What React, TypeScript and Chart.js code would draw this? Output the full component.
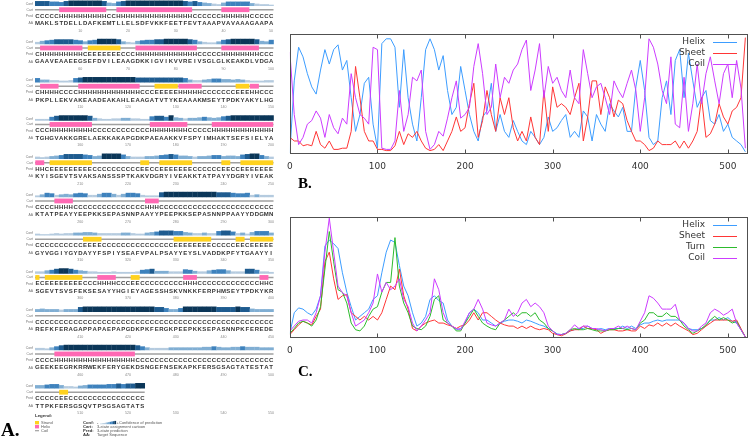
import React, { useEffect, useRef } from "react";
import { Chart, registerables } from "chart.js";

Chart.register(...registerables);

// ---------------- Panel A : sequence / PSIPRED-style data ----------------
const AA_ROWS = [
  "MAKLSTDELLDAFKEMTLLELSDFVKKFEETFEVTAAAPVAVAAAGAAPA",
  "GAAVEAAEEGSEFDVILEAAGDKKIGVIKVVREIVSGLGLKEAKDLVDGA",
  "PKPLLEKVAKEAADEAKAHLEAAGATVTYKEAAAKMSEYTPDKYAKYLHG",
  "TGHGVAKKGRELAEKKAKAPGDKPAEAAKKVFSPYIMHAKTSEFSIELYA",
  "KYISGEVTSVAKSANSSSPTKAKVDGRYIVEAKKTATPAYYDGRYIVEAK",
  "KTATPEAYYEEPKKSEPASNNPAAYYPEEPKKSEPASNNPPAAYYDDGMN",
  "GYVGGIYGYDAYYFSPIYSEAFVPALPSAYYEYSLVADDKPFYTGAAYYI",
  "SGEVTSVSFEKSESAYYHGIEYAGESSHSKVNKKFERPHMSEYTPDKYKR",
  "REFKFERAGAPPAPAEPAPGDKPKFERGKPEEPKKSEPASNNPKFEREDE",
  "GEEKEEGRKRRWEKFERYGEKDSNGEFNSEKAPKFERSGSAGTATESTAT",
  "TTPKFERSGSQVTPSGSAGTATS",
];

// predicted states, run-length coded (state + run length)
const PRED_RUNS = [
  "C5 H10 C2 H16 C6 H6 C5",
  "C1 H9 C1 E7 C3 H13 C5 H8 C3",
  "C1 H4 C4 H13 C3 E5 H5 C7 E3 H2 C3",
  "C3 H9 C12 H8 C5 H13",
  "H2 C1 E9 C10 E2 C2 E7 C6 E2 C2 E7",
  "C4 H4 C15 H3 C24",
  "C10 E4 C15 E8 C5 E2 C1 E5",
  "E1 C1 E8 C3 H4 C3 E2 C9 H3 C13 H2 C1",
  "C50",
  "C4 H17 C29",
  "C5 E2 C16",
];

// confidence (0-9) per residue
const CONF_ROWS = [
  "88877" + "6899999998" + "54" + "7899999999999987" + "865432" + "577777" + "43221",
  "3" + "567888876" + "4" + "6799998" + "432" + "5677889999987" + "43224" + "78999998" + "547",
  "7" + "4433" + "2237" + "8999999999998" + "888" + "88888" + "87433" + "4566554" + "543" + "22" + "233",
  "222" + "689999998" + "432233443322" + "78869543" + "44565" + "4578999999999",
  "32" + "3" + "456888876" + "4599997433" + "34" + "45" + "6787554" + "344566" + "45" + "54" + "7899643",
  "2476" + "3454" + "676335775357763" + "222" + "899999999999888766734333",
  "2112323344" + "5543" + "333344322456888" + "77543343" + "37886" + "34" + "2" + "57774",
  "3" + "3" + "56899865" + "433" + "2223" + "222" + "23" + "678444333" + "764" + "3356775333886" + "33" + "2",
  "4544434448" + "9999999999" + "9999988644" + "6999999988" + "8898854444",
  "3324" + "68999999999999999" + "8643333444" + "4444556544" + "556555444",
  "55677533245666677878899",
];

const POSITION_LABELS = [10, 20, 30, 40, 50];

// ---------------- Panels B and C : per-residue profiles ----------------
const X_TICKS = [0, 100, 200, 300, 400, 500];
const SEQ_LENGTH = 523;
const SAMPLE_STEP = 5; // one reading every 5 residues

const B_HELIX = [
  0.01, 0.61, 0.89, 0.81, 0.67, 0.56, 0.5, 0.7, 0.87, 0.75,
  0.87, 0.91, 0.7, 0.78, 0.47, 0.19, 0.33, 0.59, 0.64, 0.25,
  0.05, 0.92, 0.96, 0.96, 0.89, 0.39, 0.87, 0.47, 0.25, 0.11,
  0.47, 0.87, 0.96, 0.87, 0.7, 0.82, 0.53, 0.33, 0.39, 0.73,
  0.53, 0.33, 0.19, 0.11, 0.31, 0.36, 0.59, 0.19, 0.33, 0.19,
  0.14, 0.28, 0.19, 0.11, 0.08, 0.19, 0.14, 0.08, 0.14, 0.31,
  0.19, 0.22, 0.28, 0.33, 0.14, 0.19, 0.14, 0.36, 0.31, 0.11,
  0.33, 0.25, 0.19, 0.42, 0.36, 0.31, 0.39, 0.19, 0.19, 0.56,
  0.78, 0.53, 0.14, 0.08, 0.11, 0.47, 0.61, 0.33, 0.78, 0.87,
  0.47, 0.84, 0.61, 0.39, 0.47, 0.53, 0.28, 0.25, 0.33, 0.19,
  0.25, 0.14, 0.11, 0.08, 0.02,
];
const B_SHEET = [
  0.14, 0.11, 0.11, 0.07, 0.08, 0.07, 0.19, 0.08, 0.05, 0.11,
  0.04, 0.04, 0.05, 0.05, 0.19, 0.73, 0.47, 0.19, 0.11, 0.11,
  0.04, 0.04, 0.03, 0.03, 0.07, 0.19, 0.08, 0.17, 0.14, 0.19,
  0.11, 0.05, 0.03, 0.04, 0.08, 0.03, 0.11, 0.19, 0.31, 0.19,
  0.22, 0.42, 0.59, 0.14, 0.28, 0.53, 0.33, 0.19, 0.47, 0.33,
  0.47, 0.22, 0.11, 0.19, 0.11, 0.31, 0.14, 0.08, 0.53, 0.19,
  0.56, 0.39, 0.42, 0.39, 0.33, 0.47, 0.59, 0.11, 0.31, 0.61,
  0.61, 0.33, 0.56, 0.47, 0.31, 0.45, 0.42, 0.28, 0.19, 0.11,
  0.11, 0.08, 0.03, 0.05, 0.11, 0.08, 0.08, 0.08, 0.11, 0.05,
  0.11, 0.05, 0.11, 0.19, 0.47, 0.14, 0.17, 0.25, 0.42, 0.31,
  0.25, 0.36, 0.39, 0.47, 0.97,
];
const B_COIL = [
  0.85, 0.33, 0.08, 0.14, 0.25, 0.28, 0.36, 0.3, 0.14, 0.33,
  0.22, 0.17, 0.3, 0.25, 0.67, 0.47, 0.33, 0.3, 0.25, 0.89,
  0.87, 0.05, 0.04, 0.04, 0.11, 0.53, 0.19, 0.33, 0.64, 0.61,
  0.7, 0.19, 0.04, 0.08, 0.19, 0.15, 0.3, 0.47, 0.61, 0.3,
  0.33, 0.39, 0.73, 0.92, 0.67, 0.33, 0.39, 0.75, 0.47, 0.64,
  0.59, 0.7, 0.75, 0.87, 0.95, 0.53, 0.7, 0.92, 0.47, 0.73,
  0.59, 0.64, 0.53, 0.47, 0.7, 0.47, 0.42, 0.87, 0.67, 0.47,
  0.56, 0.59, 0.47, 0.33, 0.61, 0.53, 0.47, 0.59, 0.7, 0.53,
  0.19, 0.47, 0.96, 0.89, 0.75, 0.53, 0.42, 0.81, 0.25, 0.22,
  0.64, 0.19, 0.42, 0.75, 0.42, 0.67, 0.81, 0.61, 0.42, 0.67,
  0.75, 0.47, 0.78, 0.55, 0.05,
];

const C_HELIX = [
  0.04, 0.21, 0.25, 0.24, 0.21, 0.19, 0.24, 0.35, 0.76, 0.81,
  0.78, 0.74, 0.54, 0.38, 0.26, 0.15, 0.18, 0.21, 0.24, 0.32,
  0.35, 0.54, 0.71, 0.81, 0.79, 0.6, 0.43, 0.35, 0.21, 0.1,
  0.125, 0.18, 0.32, 0.35, 0.31, 0.29, 0.15, 0.1, 0.07, 0.08,
  0.125, 0.21, 0.24, 0.21, 0.15, 0.15, 0.125, 0.1, 0.125, 0.14,
  0.15, 0.15, 0.14, 0.125, 0.15, 0.14, 0.125, 0.11, 0.1, 0.08,
  0.06, 0.036, 0.03, 0.04, 0.06, 0.07, 0.08, 0.08, 0.1, 0.08,
  0.07, 0.08, 0.07, 0.08, 0.08, 0.08, 0.1, 0.08, 0.1, 0.08,
  0.11, 0.125, 0.125, 0.14, 0.15, 0.14, 0.15, 0.15, 0.15, 0.15,
  0.125, 0.08, 0.07, 0.07, 0.08, 0.1, 0.15, 0.15, 0.17, 0.15,
  0.17, 0.14, 0.125, 0.07, 0.01,
];
const C_SHEET = [
  0.03, 0.07, 0.11, 0.14, 0.125, 0.11, 0.18, 0.24, 0.63, 0.71,
  0.49, 0.32, 0.35, 0.36, 0.21, 0.18, 0.15, 0.18, 0.15, 0.18,
  0.15, 0.21, 0.32, 0.43, 0.4, 0.57, 0.35, 0.24, 0.08, 0.06,
  0.1, 0.125, 0.14, 0.15, 0.125, 0.125, 0.11, 0.1, 0.08, 0.1,
  0.11, 0.15, 0.21, 0.15, 0.21, 0.21, 0.18, 0.15, 0.125, 0.11,
  0.1, 0.1, 0.08, 0.1, 0.08, 0.1, 0.08, 0.07, 0.08, 0.07,
  0.04, 0.03, 0.02, 0.036, 0.06, 0.07, 0.07, 0.1, 0.08, 0.08,
  0.07, 0.04, 0.06, 0.07, 0.07, 0.06, 0.06, 0.07, 0.06, 0.06,
  0.1, 0.08, 0.11, 0.1, 0.125, 0.1, 0.125, 0.1, 0.125, 0.1,
  0.08, 0.06, 0.03, 0.04, 0.07, 0.1, 0.125, 0.15, 0.15, 0.15,
  0.15, 0.14, 0.15, 0.08, 0.01,
];
const C_TURN = [
  0.04, 0.08, 0.125, 0.14, 0.125, 0.1, 0.15, 0.26, 0.57, 0.88,
  0.63, 0.4, 0.38, 0.29, 0.125, 0.07, 0.06, 0.1, 0.18, 0.24,
  0.26, 0.38, 0.46, 0.46, 0.83, 0.43, 0.29, 0.21, 0.1, 0.08,
  0.07, 0.1, 0.18, 0.32, 0.35, 0.15, 0.125, 0.1, 0.06, 0.06,
  0.125, 0.18, 0.24, 0.18, 0.125, 0.1, 0.08, 0.07, 0.125, 0.15,
  0.18, 0.21, 0.18, 0.21, 0.21, 0.18, 0.21, 0.15, 0.125, 0.08,
  0.06, 0.03, 0.03, 0.04, 0.07, 0.08, 0.07, 0.07, 0.08, 0.07,
  0.06, 0.06, 0.06, 0.07, 0.07, 0.08, 0.08, 0.07, 0.08, 0.07,
  0.125, 0.15, 0.21, 0.21, 0.18, 0.18, 0.21, 0.18, 0.18, 0.15,
  0.1, 0.07, 0.04, 0.06, 0.08, 0.11, 0.15, 0.18, 0.15, 0.17,
  0.15, 0.125, 0.14, 0.07, 0.01,
];
const C_COIL = [
  0.06, 0.1, 0.14, 0.15, 0.15, 0.125, 0.21, 0.35, 0.71, 0.99,
  0.71, 0.43, 0.375, 0.35, 0.21, 0.1, 0.125, 0.15, 0.21, 0.29,
  0.53, 0.38, 0.46, 0.4, 0.43, 0.49, 0.32, 0.26, 0.125, 0.06,
  0.1, 0.15, 0.21, 0.49, 0.4, 0.21, 0.125, 0.1, 0.08, 0.07,
  0.14, 0.21, 0.24, 0.32, 0.24, 0.125, 0.11, 0.1, 0.125, 0.15,
  0.24, 0.18, 0.21, 0.29, 0.32, 0.26, 0.29, 0.26, 0.21, 0.1,
  0.06, 0.03, 0.03, 0.04, 0.07, 0.11, 0.08, 0.1, 0.1, 0.08,
  0.08, 0.07, 0.06, 0.08, 0.08, 0.1, 0.08, 0.1, 0.08, 0.07,
  0.14, 0.21, 0.35, 0.33, 0.29, 0.24, 0.24, 0.24, 0.28, 0.15,
  0.125, 0.08, 0.06, 0.06, 0.1, 0.125, 0.21, 0.24, 0.22, 0.19,
  0.21, 0.24, 0.125, 0.07, 0.01,
];

const COLORS = {
  helix: "#3d9dff",
  sheet: "#ff3636",
  turn: "#2dbb2d",
  coil: "#cc3cff",
};

// ---------------- helpers ----------------
function expandRuns(s: string): string {
  return s
    .split(" ")
    .map((t) => t[0].repeat(parseInt(t.slice(1), 10)))
    .join("");
}
const PRED_ROWS = PRED_RUNS.map(expandRuns);

function confColor(c: number): string {
  if (c <= 3) return "#b5cbdf";
  if (c <= 5) return "#80aed3";
  if (c <= 7) return "#3e82bd";
  if (c === 8) return "#1e5b8f";
  return "#0b3658";
}

// row geometry (in row units of the panel-A y scale)
const ROW_OFF = { conf: 0.157, cart: 0.254, pred: 0.418, aa: 0.612, num: 0.803 };
const PANEL_A_ROWS_VISIBLE = 11.451;

const sequencePlugin = {
  id: "sequencePanel",
  afterDraw(chart: any) {
    const { ctx } = chart;
    const x = chart.scales.x;
    const y = chart.scales.y;
    ctx.save();
    AA_ROWS.forEach((aa, r) => {
      const pred = PRED_ROWS[r];
      const conf = CONF_ROWS[r];
      const n = aa.length;
      const yConf = y.getPixelForValue(r + ROW_OFF.conf);
      const yCart = y.getPixelForValue(r + ROW_OFF.cart);
      const yPred = y.getPixelForValue(r + ROW_OFF.pred);
      const yAA = y.getPixelForValue(r + ROW_OFF.aa);
      const yNum = y.getPixelForValue(r + ROW_OFF.num);

      // confidence bars
      for (let k = 0; k < n; k++) {
        const c = parseInt(conf[k] ?? "3", 10);
        const x0 = x.getPixelForValue(k);
        const x1 = x.getPixelForValue(k + 1);
        const h = 0.8 + c * 0.52;
        ctx.fillStyle = confColor(c);
        ctx.fillRect(x0, yConf - h, x1 - x0 + 0.3, h);
      }

      // cartoon
      ctx.strokeStyle = "#a0a0a0";
      ctx.lineWidth = 1.6;
      ctx.beginPath();
      ctx.moveTo(x.getPixelForValue(0), yCart);
      ctx.lineTo(x.getPixelForValue(n), yCart);
      ctx.stroke();
      let k = 0;
      while (k < n) {
        const s = pred[k];
        let e = k;
        while (e < n && pred[e] === s) e++;
        if (s === "H" || s === "E") {
          const x0 = x.getPixelForValue(k);
          const x1 = x.getPixelForValue(e);
          ctx.fillStyle = s === "H" ? "#ff69b4" : "#ffd21f";
          ctx.fillRect(x0 + 0.3, yCart - 2.4, x1 - x0 - 0.6, 4.8);
        }
        k = e;
      }

      // row labels
      ctx.fillStyle = "#777";
      ctx.font = "3.4px 'Liberation Sans'";
      ctx.textAlign = "right";
      ctx.textBaseline = "middle";
      const lx = x.getPixelForValue(0) - 2;
      ctx.fillText("Conf", lx, yConf - 2);
      ctx.fillText("Cart", lx, yCart);
      ctx.fillText("Pred", lx, yPred);
      ctx.fillText("AA", lx, yAA);

      // predicted states and sequence
      ctx.textAlign = "center";
      ctx.fillStyle = "#333";
      ctx.font = "bold 6px 'Liberation Sans'";
      for (let i = 0; i < n; i++) {
        const cx = x.getPixelForValue(i + 0.5);
        ctx.fillText(pred[i], cx, yPred);
        ctx.fillText(aa[i], cx, yAA);
      }

      // position numbers
      ctx.fillStyle = "#8a8a8a";
      ctx.font = "3.6px 'Liberation Sans'";
      POSITION_LABELS.forEach((p) => {
        ctx.fillText(String(r * 50 + p), x.getPixelForValue(p - 0.5), yNum);
      });
    });

    // legend
    ctx.textAlign = "left";
    ctx.textBaseline = "middle";
    ctx.fillStyle = "#333";
    ctx.font = "bold 4.4px 'Liberation Sans'";
    ctx.fillText("Legend:", 35, 416);
    ctx.fillStyle = "#ffd21f";
    ctx.fillRect(35, 421, 4, 3.4);
    ctx.fillStyle = "#ff69b4";
    ctx.fillRect(35, 425, 4, 3.4);
    ctx.strokeStyle = "#a0a0a0";
    ctx.lineWidth = 1.2;
    ctx.beginPath();
    ctx.moveTo(35, 430.7);
    ctx.lineTo(39, 430.7);
    ctx.stroke();
    ctx.fillStyle = "#555";
    ctx.font = "4px 'Liberation Sans'";
    ctx.fillText("Strand", 41, 422.7);
    ctx.fillText("Helix", 41, 426.7);
    ctx.fillText("Coil", 41, 430.7);

    ctx.fillStyle = "#333";
    ctx.font = "bold 4.2px 'Liberation Sans'";
    ctx.fillText("Conf:", 83, 422.7);
    ctx.fillText("Cart:", 83, 426.7);
    ctx.fillText("Pred:", 83, 430.7);
    ctx.fillText("AA:", 83, 434.5);
    for (let i = 0; i < 10; i++) {
      const c = i;
      ctx.fillStyle = confColor(c);
      const h = 0.6 + c * 0.3;
      ctx.fillRect(100 + i * 1.6, 424.2 - h, 1.7, h);
    }
    ctx.fillStyle = "#555";
    ctx.font = "4px 'Liberation Sans'";
    ctx.fillText("-", 97, 422.7);
    ctx.fillText("+", 116.5, 422.7);
    ctx.fillText("Confidence of prediction", 119, 422.7);
    ctx.fillText("3-state assignment cartoon", 97, 426.7);
    ctx.fillText("3-state prediction", 97, 430.7);
    ctx.fillText("Target Sequence", 97, 434.5);
    ctx.restore();
  },
};

const framePlugin = {
  id: "gnuFrame",
  afterDraw(chart: any) {
    const { ctx, chartArea: a } = chart;
    const x = chart.scales.x;
    ctx.save();
    ctx.strokeStyle = "#505050";
    ctx.lineWidth = 1;
    const l = Math.round(a.left) + 0.5;
    const t = Math.round(a.top) + 0.5;
    const r = Math.round(a.right) - 0.5;
    const b = Math.round(a.bottom) - 0.5;
    ctx.strokeRect(l, t, r - l, b - t);
    ctx.beginPath();
    x.ticks.forEach((tk: any) => {
      if (tk.value <= 0) return;
      const px = Math.round(x.getPixelForValue(tk.value)) + 0.5;
      ctx.moveTo(px, b);
      ctx.lineTo(px, b - 4);
      ctx.moveTo(px, t);
      ctx.lineTo(px, t + 4);
    });
    ctx.stroke();

    // key (gnuplot style, top right)
    ctx.font = "9px 'DejaVu Sans'";
    ctx.textAlign = "right";
    ctx.textBaseline = "middle";
    chart.data.datasets.forEach((ds: any, i: number) => {
      const yy = a.top + 7.5 + i * 11;
      ctx.fillStyle = "#333";
      ctx.fillText(ds.label, a.right - 43, yy);
      ctx.strokeStyle = ds.borderColor;
      ctx.lineWidth = 1;
      ctx.beginPath();
      ctx.moveTo(a.right - 35, Math.round(yy) + 0.5);
      ctx.lineTo(a.right - 11, Math.round(yy) + 0.5);
      ctx.stroke();
    });
    ctx.restore();
  },
};

type Series = { label: string; values: number[]; color: string };

function makeProfileChart(canvas: HTMLCanvasElement, series: Series[]) {
  return new Chart(canvas, {
    type: "line",
    data: {
      datasets: series.map((s, i) => ({
        label: s.label,
        data: s.values.map((v, j) => ({ x: j * SAMPLE_STEP, y: v })),
        borderColor: s.color,
        backgroundColor: s.color,
        borderWidth: 1,
        pointRadius: 0,
        tension: 0,
        fill: false,
        order: series.length - i,
      })),
    },
    options: {
      animation: false,
      responsive: false,
      devicePixelRatio: 1,
      events: [],
      layout: { padding: { left: 8, right: 2, top: 6, bottom: 2 } },
      plugins: { legend: { display: false }, tooltip: { enabled: false } },
      scales: {
        x: {
          type: "linear",
          min: 0,
          max: SEQ_LENGTH,
          afterBuildTicks: (scale: any) => {
            scale.ticks = X_TICKS.map((v) => ({ value: v }));
          },
          grid: { display: false, drawTicks: false },
          border: { display: false },
          ticks: {
            autoSkip: false,
            maxRotation: 0,
            padding: 7,
            color: "#333",
            font: { family: "'DejaVu Sans'", size: 9 },
          },
        },
        y: { type: "linear", min: 0, max: 1, display: false },
      },
    } as any,
    plugins: [framePlugin],
  });
}

function SequencePanel() {
  const ref = useRef<HTMLCanvasElement>(null);
  useEffect(() => {
    const chart = new Chart(ref.current as HTMLCanvasElement, {
      type: "scatter",
      data: { datasets: [] },
      options: {
        animation: false,
        responsive: false,
        devicePixelRatio: 1,
        events: [],
        layout: { padding: { left: 35, right: 6.5, top: 0, bottom: 0 } },
        plugins: { legend: { display: false }, tooltip: { enabled: false } },
        scales: {
          x: { type: "linear", min: 0, max: 50, display: false },
          y: { type: "linear", min: 0, max: PANEL_A_ROWS_VISIBLE, reverse: true, display: false },
        },
      } as any,
      plugins: [sequencePlugin],
    });
    return () => chart.destroy();
  }, []);
  return (
    <canvas
      ref={ref}
      width={280}
      height={438}
      style={{ position: "absolute", left: 0, top: 0, width: 280, height: 438 }}
    />
  );
}

function ProfilePanel({ series, top, height }: { series: Series[]; top: number; height: number }) {
  const ref = useRef<HTMLCanvasElement>(null);
  useEffect(() => {
    const chart = makeProfileChart(ref.current as HTMLCanvasElement, series);
    return () => chart.destroy();
  }, []);
  return (
    <canvas
      ref={ref}
      width={470}
      height={height}
      style={{ position: "absolute", left: 280, top, width: 470, height }}
    />
  );
}

const labelStyle: React.CSSProperties = {
  position: "absolute",
  fontFamily: "'Liberation Serif', serif",
  fontWeight: "bold",
  lineHeight: 1,
  color: "#000",
};

export default function App() {
  const seriesB: Series[] = [
    { label: "Helix", values: B_HELIX, color: COLORS.helix },
    { label: "Sheet", values: B_SHEET, color: COLORS.sheet },
    { label: "Coil", values: B_COIL, color: COLORS.coil },
  ];
  const seriesC: Series[] = [
    { label: "Helix", values: C_HELIX, color: COLORS.helix },
    { label: "Sheet", values: C_SHEET, color: COLORS.sheet },
    { label: "Turn", values: C_TURN, color: COLORS.turn },
    { label: "Coil", values: C_COIL, color: COLORS.coil },
  ];
  return (
    <div
      style={{
        position: "absolute",
        left: 0,
        top: 0,
        width: 750,
        height: 438,
        background: "#fff",
        overflow: "hidden",
      }}
    >
      <SequencePanel />
      <ProfilePanel series={seriesB} top={28} height={153} />
      <ProfilePanel series={seriesC} top={211} height={154} />
      <div style={{ ...labelStyle, left: 1, top: 420, fontSize: 19 }}>A.</div>
      <div style={{ ...labelStyle, left: 298, top: 176, fontSize: 15 }}>B.</div>
      <div style={{ ...labelStyle, left: 298, top: 364, fontSize: 15 }}>C.</div>
    </div>
  );
}
